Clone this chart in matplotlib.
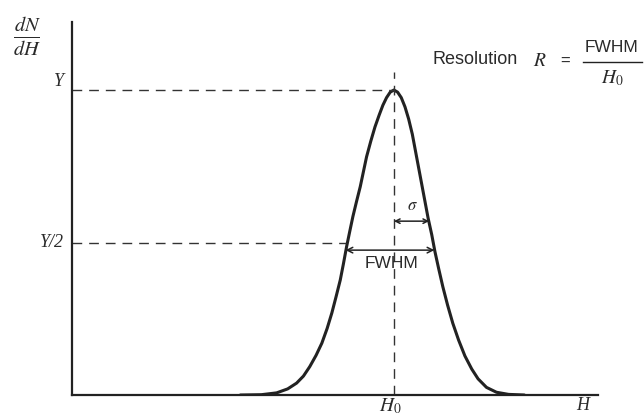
import matplotlib.pyplot as plt
from matplotlib.lines import Line2D

# peak shape (H in arbitrary units, dN/dH normalised to Y=1)
H = [3.20, 3.60, 3.89, 4.10, 4.27, 4.40, 4.52, 4.64, 4.75, 4.85, 4.94, 5.02,
     5.10, 5.16, 5.22, 5.28, 5.34, 5.41, 5.48, 5.54, 5.60, 5.68, 5.76, 5.84,
     5.91, 5.98, 6.05, 6.12,
     6.19, 6.26, 6.33, 6.40, 6.47, 6.53, 6.59, 6.65, 6.71, 6.77, 6.84, 6.90,
     6.97, 7.05, 7.14, 7.24, 7.35, 7.47, 7.60, 7.72, 7.88, 8.07, 8.30, 8.60]
dNdH = [0.0, 0.001, 0.007, 0.020, 0.039, 0.062, 0.093, 0.130, 0.170, 0.218,
        0.269, 0.322, 0.377, 0.430, 0.486, 0.536, 0.585, 0.635, 0.683, 0.732,
        0.781, 0.832, 0.879, 0.918, 0.950, 0.975, 0.993, 1.0,
        0.993, 0.975, 0.945, 0.905, 0.855, 0.800, 0.745, 0.690, 0.635, 0.580,
        0.525, 0.470, 0.415, 0.355, 0.295, 0.235, 0.180, 0.128, 0.085, 0.053,
        0.025, 0.009, 0.002, 0.0]

H0 = 6.12       # peak position
Y = 1.0         # peak height
fwhm_lo, fwhm_hi = 5.20, 6.89
sigma_hi = 6.79
sigma_level = 0.57

ink = "#222222"

W, Hpx = 644, 416
fig = plt.figure(figsize=(W / 100, Hpx / 100), dpi=100)
fig.patch.set_facecolor("white")

def fx(x):
    return x / W

def fy(y):
    return 1 - y / Hpx

# axes box: left spine x=72px, bottom y=395px, top y=22px, right x=598px
ax = fig.add_axes([fx(72), fy(395), (598 - 72) / W, (395 - 22) / Hpx])
ax.set_xlim(0, 10)
ax.set_ylim(0, 1.223)
for s in ["top", "right"]:
    ax.spines[s].set_visible(False)
for s in ["left", "bottom"]:
    ax.spines[s].set_linewidth(1.6)
    ax.spines[s].set_color(ink)
ax.set_xticks([])
ax.set_yticks([])
ax.patch.set_alpha(0)

# curve
ax.plot(H, dNdH, color=ink, lw=2.2, solid_joinstyle="round", solid_capstyle="round")

# dashed guides
dash = dict(color="#333333", lw=1.0, dashes=(7, 5))
ax.plot([0, H0], [Y, Y], **dash)
ax.plot([0, fwhm_lo], [Y / 2, Y / 2], **dash)
ax.plot([H0, H0], [0, 1.06], **dash)

# arrows
ax.annotate("", xy=(fwhm_lo, Y / 2 - 0.025), xytext=(fwhm_hi, Y / 2 - 0.025),
            arrowprops=dict(arrowstyle="<->", color=ink, lw=1.1,
                            shrinkA=0, shrinkB=0, mutation_scale=10))
ax.annotate("", xy=(H0, sigma_level), xytext=(sigma_hi, sigma_level),
            arrowprops=dict(arrowstyle="<->", color=ink, lw=1.1,
                            shrinkA=0, shrinkB=0, mutation_scale=8))

plt.rcParams["mathtext.fontset"] = "stix"
txt = "#2a2a2a"
serif = dict(family="Liberation Serif", style="italic", color=txt)
sans = dict(family="Liberation Sans", color=txt)

# labels
fig.text(fx(27), fy(37), r"$\frac{dN}{dH}$", fontsize=21, ha="center", va="center", color=txt)
fig.text(fx(64), fy(82), "Y", fontsize=13, ha="right", va="center", **serif)
fig.text(fx(64), fy(242), "Y/2", fontsize=13, ha="right", va="center", **serif)
fig.text(fx(390), fy(406), r"$H_0$", fontsize=14, ha="center", va="center", color=txt)
fig.text(fx(583), fy(406), "H", fontsize=13, ha="center", va="center", **serif)
fig.text(fx(412), fy(205), r"$\sigma$", fontsize=12, ha="center", va="center", color=txt)
fig.text(fx(392), fy(263), "FWHM", fontsize=12.5, ha="center", va="center", **sans)

# resolution formula
fig.text(fx(433), fy(60), "Resolution", fontsize=13, ha="left", va="center", **sans)
fig.text(fx(540), fy(60), r"$R$", fontsize=14, ha="center", va="center", color=txt)
fig.text(fx(565), fy(61), "=", fontsize=12, ha="center", va="center", **sans)
fig.text(fx(612), fy(48), "FWHM", fontsize=12.5, ha="center", va="center", **sans)
fig.add_artist(Line2D([fx(583), fx(642)], [fy(62), fy(62)], color=ink, lw=1.0))
fig.text(fx(612), fy(78), r"$H_0$", fontsize=14, ha="center", va="center", color=txt)

fig.savefig("out.png", dpi=100)
